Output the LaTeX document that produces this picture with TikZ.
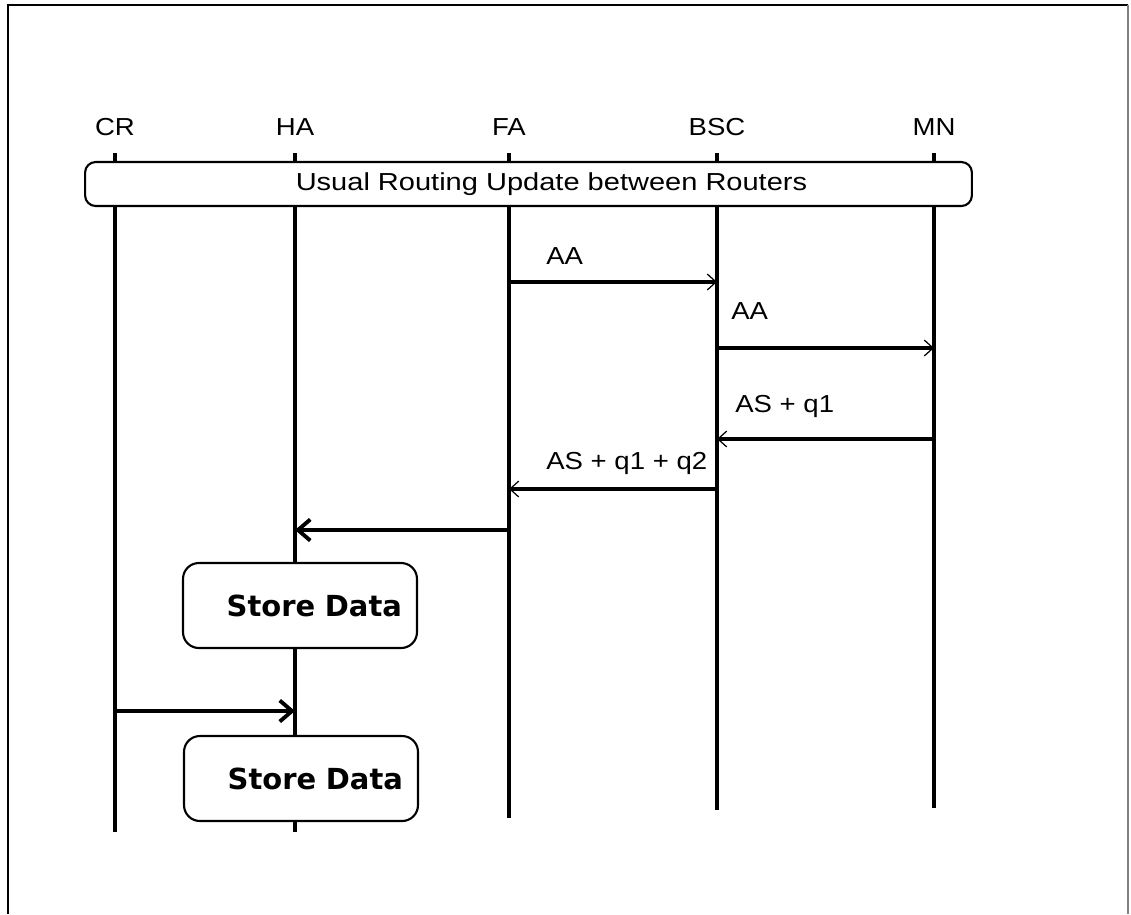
\documentclass[tikz,border=0pt]{standalone}
\usepackage{fontspec}
\setmainfont{Liberation Sans}[FakeStretch=1.12]
\newfontfamily\titlefont{Liberation Sans}[FakeStretch=1.18]
\newfontfamily\storefont{DejaVu Sans}
\usepackage{tikz}
\usetikzlibrary{arrows.meta,positioning}
\tikzset{
  head/.style={font=\fontsize{14}{16}\selectfont, inner sep=0pt},
  msglbl/.style={font=\fontsize{14}{16}\selectfont, anchor=west, inner sep=0pt},
  life/.style={line width=2.4pt},
  msg/.style={line width=2pt, -{Straight Barb[length=5pt,width=9pt,line width=0.7pt]}},
  hamsg/.style={line width=2.2pt, -{Straight Barb[length=7pt,width=12pt]}},
  updbox/.style={draw, line width=1.2pt, rounded corners=6pt, fill=white,
                 minimum width=17.74cm, minimum height=0.88cm,
                 font=\titlefont\fontsize{14}{16}\selectfont},
  storebox/.style={draw, line width=1.2pt, rounded corners=9pt, fill=white,
                   text width=4.08cm, inner xsep=0.3cm, minimum height=1.7cm,
                   align=right, font=\storefont\bfseries\fontsize{16.5}{19}\selectfont},
}

\begin{document}
\begin{tikzpicture}[x=0.02cm, y=-0.02cm]
  \useasboundingbox (0,0) rectangle (1131,914);
  % outer frame
  \draw[line width=0.8pt] (8,914) -- (8,5) -- (1128,5);
  \draw[gray, line width=0.6pt] (1128,5) -- (1128,914);

  % entities and lifelines
  \foreach \nm/\xp/\lab/\yend in {cr/115/CR/832, ha/295/HA/832, fa/509/FA/818, bsc/717/BSC/810, mn/934/MN/808}{
    \node[head] (\nm) at (\xp,127) {\lab};
    \coordinate (\nm-top) at (\xp,153);
    \coordinate (\nm-end) at (\xp,\yend);
    \draw[life] (\nm-top) -- (\nm-end);
  }

  \node[updbox] (upd) at (528.5,184) {\hspace*{0.92cm}Usual Routing Update between Routers};

  % message levels
  \coordinate (m1) at (0,282);
  \coordinate (m2) at (0,348);
  \coordinate (m3) at (0,439);
  \coordinate (m4) at (0,489);
  \coordinate (m5) at (0,530);
  \coordinate (m6) at (0,711);

  \draw[msg] (fa-top |- m1) -- (bsc-top |- m1);
  \node[msglbl] (l1) at (546,256) {AA};
  \draw[msg] (bsc-top |- m2) -- (mn-top |- m2);
  \node[msglbl] (l2) at (731,311) {AA};
  \draw[msg] (mn-top |- m3) -- (bsc-top |- m3);
  \node[msglbl] (l3) at (735,406) {AS + q1};
  \draw[msg] (bsc-top |- m4) -- (fa-top |- m4);
  \node[msglbl] (l4) at (546,463) {AS + q1 + q2};

  \draw[hamsg] (fa-top |- m5) -- (ha-top |- m5);
  \node[storebox] (sd1) at (300,605.5) {Store Data};
  \draw[hamsg] (cr-top |- m6) -- (ha-top |- m6);
  \node[storebox] (sd2) at (301,778.5) {Store Data};
\end{tikzpicture}
\end{document}
